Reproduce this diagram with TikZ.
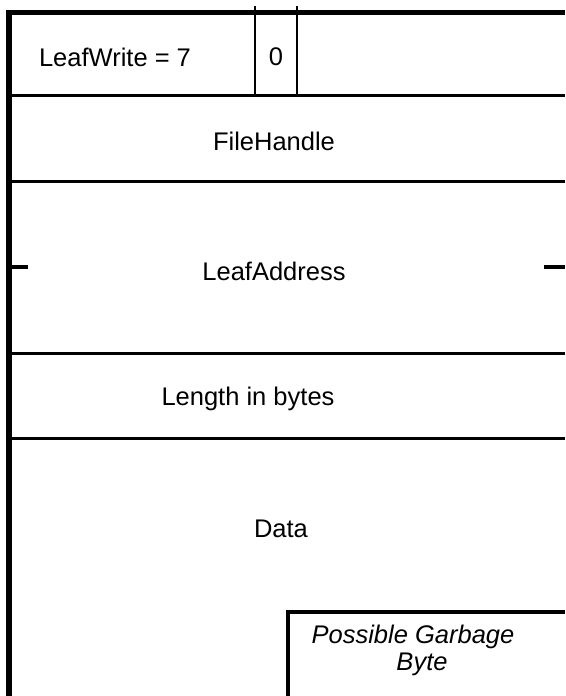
\documentclass[tikz,border=0pt]{standalone}
\usepackage{fontspec}
\setmainfont{Liberation Sans}
\begin{document}
\begin{tikzpicture}[x=1pt,y=-1pt,
    field/.style={font=\fontsize{25.5}{27}\selectfont},
    rule/.style={line width=3pt},
    divider/.style={line width=2.5pt},
    tick/.style={line width=4pt}]
    \useasboundingbox (0,0) rectangle (565,696);
    \coordinate (L0) at (9,10);
    \coordinate (L1) at (9,696);
    \coordinate (T0) at (6,12.5);
    \coordinate (T1) at (565,12.5);
    \coordinate (D1a) at (255,6);
    \coordinate (D1b) at (255,95);
    \coordinate (D2a) at (297,6);
    \coordinate (D2b) at (297,95);
    \coordinate (R1a) at (12,95.5);
    \coordinate (R1b) at (565,95.5);
    \coordinate (R2a) at (12,181.5);
    \coordinate (R2b) at (565,181.5);
    \coordinate (R3a) at (12,353);
    \coordinate (R3b) at (565,353);
    \coordinate (R4a) at (12,438);
    \coordinate (R4b) at (565,438);
    \coordinate (K1a) at (12,267);
    \coordinate (K1b) at (28,267);
    \coordinate (K2a) at (544,267);
    \coordinate (K2b) at (565,267);
    \coordinate (G1) at (288,696);
    \coordinate (G2) at (288,612);
    \coordinate (G3) at (565,612);

    \node[field] (leafwrite) at (115,57) {LeafWrite = 7};
    \node[field] (zero) at (276,57) {0};
    \node[field] (handle) at (274,141) {FileHandle};
    \node[field] (address) at (274,271) {LeafAddress};
    \node[field] (length) at (248,399) {Length in bytes};
    \node[field] (data) at (281,529) {Data};
    \node[field,font=\fontsize{25.5}{27}\selectfont\itshape,anchor=base] (garbage) at (413,643) {Possible Garbage};
    \node[field,font=\fontsize{25.5}{27}\selectfont\itshape,anchor=base] (garbagebyte) at (422,670) {Byte};

    \draw[line width=6pt] (L0) -- (L1);
    \draw[line width=5pt] (T0) -- (T1);
    \draw[divider] (D1a) -- (D1b);
    \draw[divider] (D2a) -- (D2b);
    \draw[rule] (R1a) -- (R1b);
    \draw[rule] (R2a) -- (R2b);
    \draw[rule] (R3a) -- (R3b);
    \draw[rule] (R4a) -- (R4b);
    \draw[tick] (K1a) -- (K1b);
    \draw[tick] (K2a) -- (K2b);
    \draw[line width=4pt] (G1) -- (G2) -- (G3);

\end{tikzpicture}
\end{document}
